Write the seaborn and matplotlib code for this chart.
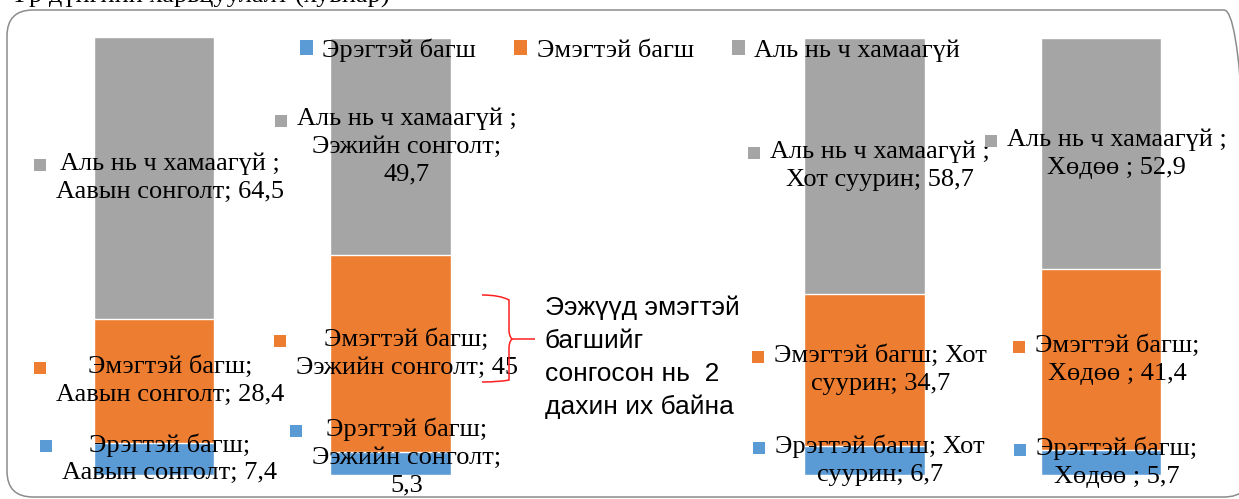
import matplotlib
matplotlib.use('Agg')
import matplotlib.pyplot as plt
import matplotlib.transforms as mtransforms
from matplotlib.patches import FancyBboxPatch, Rectangle, PathPatch, Patch
from matplotlib.path import Path
import pandas as pd
import seaborn as sns

# data
groups = ['Аавын сонголт', 'Ээжийн сонголт', 'Хот суурин', 'Хөдөө']
male = [7.4, 5.3, 6.7, 5.7]
female = [28.4, 45, 34.7, 41.4]
either = [64.5, 49.7, 58.7, 52.9]
series_names = ['Эрэгтэй багш', 'Эмэгтэй багш', 'Аль нь ч хамаагүй']
colors = ['#5B9BD5', '#ED7D31', '#A5A5A5']

def fmt(v):
    return ('%g' % v).replace('.', ',')

# data label texts (wrapped like the original), per group: male, female, either
label_texts = [
    ['Эрэгтэй багш;\nАавын сонголт; ' + fmt(male[0]),
     'Эмэгтэй багш;\nАавын сонголт; ' + fmt(female[0]),
     'Аль нь ч хамаагүй ;\nАавын сонголт; ' + fmt(either[0])],
    ['Эрэгтэй багш;\nЭэжийн сонголт;\n' + fmt(male[1]),
     'Эмэгтэй багш;\nЭэжийн сонголт; ' + fmt(female[1]),
     'Аль нь ч хамаагүй ;\nЭэжийн сонголт;\n' + fmt(either[1])],
    ['Эрэгтэй багш; Хот\nсуурин; ' + fmt(male[2]),
     'Эмэгтэй багш; Хот\nсуурин; ' + fmt(female[2]),
     'Аль нь ч хамаагүй ;\nХот суурин; ' + fmt(either[2])],
    ['Эрэгтэй багш;\nХөдөө ; ' + fmt(male[3]),
     'Эмэгтэй багш;\nХөдөө ; ' + fmt(female[3]),
     'Аль нь ч хамаагүй ;\nХөдөө ; ' + fmt(either[3])],
]
note = 'Ээжүүд эмэгтэй\nбагшийг\nсонгосон нь  2\nдахин их байна'
caption = 'Үр дүнгийн харьцуулалт (хувиар)'

W, H = 1239, 499
serif = 'Liberation Serif'
fs = 19

df = pd.DataFrame({'group': groups, 'male': male, 'female': female, 'either': either})
df['c1'] = df['male']
df['c2'] = df['c1'] + df['female']
df['c3'] = df['c2'] + df['either']
order = [groups[0], groups[1], ' ', groups[2], groups[3]]

fig = plt.figure(figsize=(W / 100, H / 100), dpi=100)
ax = fig.add_axes([0, 0, 1, 1])

# layered cumulative bars -> stacked look
for col, c in [('c3', colors[2]), ('c2', colors[1]), ('c1', colors[0])]:
    sns.barplot(data=df, x='group', y=col, order=order, color=c, saturation=1,
                width=0.51, edgecolor='white', linewidth=1, errorbar=None, ax=ax)

ax.set_xlim(-0.65, 4.583)
ax.set_ylim(-5.49, 108.7)
ax.set_axis_off()

# data labels
xpos = [order.index(g) for g in groups]
texts = []
for i, g in enumerate(groups):
    vals = [male[i], female[i], either[i]]
    bottom = 0
    for k in range(3):
        yc = bottom + vals[k] / 2
        bottom += vals[k]
        dy = 4.5 if (i == 1 and k == 0) else 0
        t = ax.annotate(label_texts[i][k], xy=(xpos[i], yc), xytext=(11.5, dy),
                        textcoords='offset points', ha='center', va='center',
                        fontsize=fs, family=serif, linespacing=1.33, color='black')
        texts.append((t, colors[k]))

# legend
handles = [Patch(facecolor=c, edgecolor='none') for c in colors]
fig.legend(handles, series_names, ncol=3, loc='center',
           bbox_to_anchor=(630 / W, 1 - 50 / H), frameon=False,
           prop={'family': serif, 'size': fs}, handlelength=0.5, handleheight=0.5,
           handletextpad=0.35, columnspacing=1.45, borderaxespad=0)

# rounded outer frame
ident = mtransforms.IdentityTransform()
frame = FancyBboxPatch((7, 2), 1243, 487, boxstyle='round,pad=0,rounding_size=26',
                       transform=ident, facecolor='none', edgecolor='#8c8c8c',
                       linewidth=1.1, zorder=0)
fig.patches.append(frame)
fig.text(10 / W, 1 - 3 / H, caption, family=serif, fontsize=fs, va='baseline')

# red brace + note
def px(x, y):
    return (x, H - y)

verts = [px(482, 295), px(500, 295), px(509, 300), px(509, 312),
         px(509, 330), px(509, 336), px(512, 339), px(535, 339),
         px(512, 339), px(509, 342), px(509, 348), px(509, 370),
         px(509, 380), px(500, 382), px(482, 382)]
codes = [Path.MOVETO, Path.CURVE3, Path.CURVE3, Path.LINETO,
         Path.LINETO, Path.CURVE3, Path.CURVE3, Path.LINETO,
         Path.MOVETO, Path.CURVE3, Path.CURVE3, Path.LINETO,
         Path.LINETO, Path.CURVE3, Path.CURVE3]
brace = PathPatch(Path(verts, codes), transform=ident, facecolor='none',
                  edgecolor='#ff2020', linewidth=1.1)
fig.patches.append(brace)
fig.text(545 / W, 1 - 296 / H, note, family='Liberation Sans', fontsize=19,
         va='top', ha='left', linespacing=1.45)

# legend-key squares in front of data labels
fig.canvas.draw()
r = fig.canvas.get_renderer()
sq = 12
for t, c in texts:
    bb = t.get_window_extent(r)
    nl = t.get_text().count('\n') + 1
    lh = bb.height / nl
    cx = bb.x0 - 16
    cy = bb.y1 - lh / 2
    fig.patches.append(Rectangle((cx - sq / 2, cy - sq / 2), sq, sq, transform=ident,
                                 facecolor=c, edgecolor='none'))

fig.savefig('out.png', dpi=100)
